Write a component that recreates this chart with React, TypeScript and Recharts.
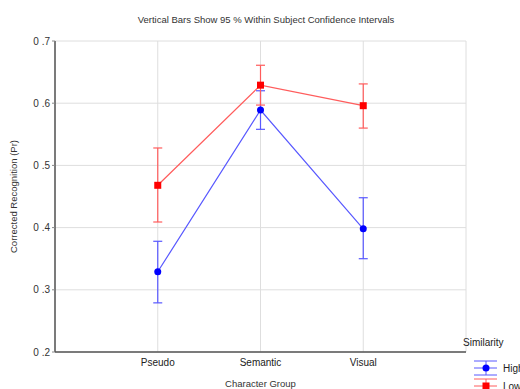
import React, { useEffect } from 'react';
import {
  ComposedChart,
  Line,
  XAxis,
  YAxis,
  CartesianGrid,
  ErrorBar,
  Label,
  Customized,
} from 'recharts';

// Character groups on the x axis (positions 1..3 of a 0..4 range)
const groups = ['Pseudo', 'Semantic', 'Visual'];
const groupPos = [1, 2, 3];

// Similarity = High
const highMean = [0.329, 0.589, 0.398];
const highLower = [0.279, 0.558, 0.350];
const highUpper = [0.378, 0.620, 0.448];

// Similarity = Low
const lowMean = [0.468, 0.629, 0.596];
const lowLower = [0.409, 0.597, 0.560];
const lowUpper = [0.528, 0.661, 0.631];

const yTicks = [0.2, 0.3, 0.4, 0.5, 0.6, 0.7];

const BLUE = '#0000ff';
const BLUE_LINE = '#5858ff';
const RED = '#ff0000';
const RED_LINE = '#ff5c5c';
const FRAME = '#555';
const FONT = '"Liberation Sans", Arial, sans-serif';

const data = groups.map((g, i) => ({
  x: groupPos[i],
  name: g,
  high: highMean[i],
  highErr: [highMean[i] - highLower[i], highUpper[i] - highMean[i]],
  low: lowMean[i],
  lowErr: [lowMean[i] - lowLower[i], lowUpper[i] - lowMean[i]],
}));

const fmt = (v: number) => v.toFixed(1).replace('.', ' .');

const CircleDot = (props: any) => {
  const { cx, cy, index } = props;
  return <circle key={`hd-${index}`} cx={cx} cy={cy} r={3.5} fill={BLUE} stroke="none" />;
};

const SquareDot = (props: any) => {
  const { cx, cy, index } = props;
  return <rect key={`ld-${index}`} x={cx - 3.5} y={cy - 3.5} width={7} height={7} fill={RED} stroke="none" />;
};

const Extras = () => (
  <g fontFamily={FONT}>
    <text x={266} y={19} textAnchor="middle" dominantBaseline="central" fontSize={9.5} fill="#333">
      Vertical Bars Show 95 % Within Subject Confidence Intervals
    </text>
    <text x={463} y={342} dominantBaseline="central" fontSize={10} fill="#222">
      Similarity
    </text>
    {/* High */}
    <g stroke={BLUE_LINE} strokeWidth={1}>
      <line x1={474} x2={497} y1={361} y2={361} />
      <line x1={474} x2={497} y1={368} y2={368} />
      <line x1={474} x2={497} y1={375} y2={375} />
      <line x1={486} x2={486} y1={361} y2={375} />
    </g>
    <circle cx={486} cy={368} r={3.5} fill={BLUE} />
    <text x={503} y={368} dominantBaseline="central" fontSize={10} fill="#222">
      High
    </text>
    {/* Low */}
    <g stroke={RED_LINE} strokeWidth={1}>
      <line x1={474} x2={497} y1={379} y2={379} />
      <line x1={474} x2={497} y1={386} y2={386} />
      <line x1={474} x2={497} y1={393} y2={393} />
      <line x1={486} x2={486} y1={379} y2={393} />
    </g>
    <rect x={482.5} y={382.5} width={7} height={7} fill={RED} />
    <text x={503} y={386} dominantBaseline="central" fontSize={10} fill="#222">
      Low
    </text>
  </g>
);

export default function App() {
  useEffect(() => {
    document.body.style.margin = '0';
  }, []);

  return (
    <div style={{ width: 520, height: 389, background: '#fff' }}>
      <ComposedChart
        width={520}
        height={389}
        data={data}
        margin={{ top: 41, right: 54, bottom: 0, left: 0 }}
        style={{ fontFamily: FONT }}
      >
        <CartesianGrid stroke="#dedede" strokeWidth={1} />
        <XAxis
          dataKey="x"
          type="number"
          domain={[0, 4]}
          ticks={groupPos}
          tickFormatter={(v: number) => groups[groupPos.indexOf(v)] ?? ''}
          height={37}
          axisLine={{ stroke: FRAME, strokeWidth: 1.5 }}
          tickLine={false}
          tickSize={0}
          tickMargin={7}
          tick={{ fontSize: 10, fill: '#222' }}
          allowDataOverflow
        >
          <Label value="Character Group" position="insideBottom" offset={2} style={{ fontSize: 9.5, fill: '#333' }} />
        </XAxis>
        <XAxis
          xAxisId="top"
          dataKey="x"
          type="number"
          orientation="top"
          domain={[0, 4]}
          ticks={groupPos}
          height={0}
          axisLine={{ stroke: FRAME, strokeWidth: 1.5 }}
          tick={false}
          tickLine={false}
        />
        <YAxis
          type="number"
          domain={[0.2, 0.7]}
          ticks={yTicks}
          tickFormatter={fmt}
          width={55}
          axisLine={{ stroke: FRAME, strokeWidth: 1.5 }}
          tickLine={{ stroke: '#888' }}
          tickSize={3}
          tickMargin={2}
          tick={{ fontSize: 10, fill: '#333' }}
          allowDataOverflow
        >
          <Label
            value="Corrected Recognition (Pr)"
            angle={-90}
            position="insideLeft"
            offset={14}
            style={{ fontSize: 9.5, fill: '#333', textAnchor: 'middle' }}
          />
        </YAxis>
        <YAxis
          yAxisId="right"
          orientation="right"
          type="number"
          domain={[0.2, 0.7]}
          width={0}
          axisLine={{ stroke: FRAME, strokeWidth: 1.5 }}
          tick={false}
          tickLine={false}
        />
        <Line
          dataKey="high"
          stroke={BLUE_LINE}
          strokeWidth={1.2}
          dot={CircleDot}
          activeDot={false}
          isAnimationActive={false}
        >
          <ErrorBar dataKey="highErr" direction="y" width={4.5} stroke={BLUE_LINE} strokeWidth={1.2} isAnimationActive={false} />
        </Line>
        <Line
          dataKey="low"
          stroke={RED_LINE}
          strokeWidth={1.2}
          dot={SquareDot}
          activeDot={false}
          isAnimationActive={false}
        >
          <ErrorBar dataKey="lowErr" direction="y" width={4.5} stroke={RED_LINE} strokeWidth={1.2} isAnimationActive={false} />
        </Line>
        <Customized component={Extras} />
      </ComposedChart>
    </div>
  );
}
